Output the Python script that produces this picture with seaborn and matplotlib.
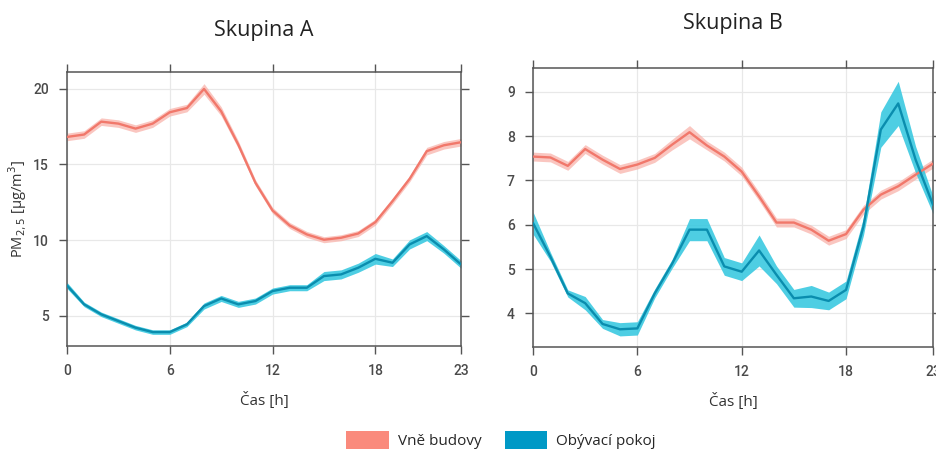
import numpy as np
import pandas as pd
import matplotlib
matplotlib.use("Agg")
import matplotlib.pyplot as plt
from matplotlib.patches import Patch
import seaborn as sns

hours = list(range(24))
series_names = ["Vně budovy", "Obývací pokoj"]
panel_titles = ["Skupina A", "Skupina B"]
x_ticks = [0, 6, 12, 18, 23]

# Skupina A
a_outside = [16.81, 16.97, 17.82, 17.69, 17.36, 17.69, 18.44, 18.72, 19.98, 18.5,
             16.3, 13.78, 11.95, 10.96, 10.37, 10.02, 10.15, 10.43, 11.18, 12.57,
             14.04, 15.87, 16.26, 16.46]
a_outside_ci = [0.25, 0.25, 0.25, 0.25, 0.25, 0.25, 0.25, 0.25, 0.35, 0.3,
                0.25, 0.2, 0.2, 0.2, 0.2, 0.2, 0.2, 0.2, 0.2, 0.2,
                0.2, 0.25, 0.25, 0.25]
a_living = [7.0, 5.75, 5.09, 4.65, 4.21, 3.92, 3.92, 4.43, 5.64, 6.14,
            5.75, 5.97, 6.63, 6.85, 6.85, 7.62, 7.73, 8.17, 8.76, 8.5,
            9.71, 10.26, 9.38, 8.39]
a_living_ci = [0.2, 0.15, 0.15, 0.15, 0.15, 0.15, 0.15, 0.15, 0.2, 0.2,
               0.2, 0.2, 0.2, 0.2, 0.2, 0.3, 0.3, 0.3, 0.35, 0.25,
               0.3, 0.3, 0.25, 0.25]

# Skupina B
b_outside = [7.54, 7.52, 7.33, 7.71, 7.47, 7.26, 7.36, 7.51, 7.81, 8.09,
             7.79, 7.54, 7.20, 6.64, 6.05, 6.05, 5.89, 5.64, 5.79, 6.34,
             6.68, 6.87, 7.13, 7.38]
b_outside_ci = [0.1, 0.1, 0.1, 0.1, 0.1, 0.1, 0.1, 0.1, 0.12, 0.15,
                0.1, 0.1, 0.1, 0.1, 0.1, 0.1, 0.1, 0.1, 0.1, 0.1,
                0.1, 0.1, 0.1, 0.1]
b_living = [6.04, 5.28, 4.45, 4.23, 3.76, 3.64, 3.66, 4.45, 5.12, 5.89,
            5.89, 5.06, 4.94, 5.42, 4.87, 4.34, 4.38, 4.28, 4.53, 5.96,
            8.15, 8.74, 7.47, 6.45]
b_living_ci = [0.25, 0.1, 0.08, 0.15, 0.1, 0.15, 0.15, 0.1, 0.1, 0.25,
               0.25, 0.2, 0.2, 0.35, 0.2, 0.2, 0.25, 0.2, 0.2, 0.2,
               0.4, 0.5, 0.3, 0.2]

line_colors = {"Vně budovy": "#F1786B", "Obývací pokoj": "#0A8DAE"}
band_colors = {"Vně budovy": "#F9B3AB", "Obývací pokoj": "#2FC6DF"}
legend_colors = {"Vně budovy": "#FA8A7C", "Obývací pokoj": "#0099C6"}

panels = [
    (a_outside, a_outside_ci, a_living, a_living_ci, (3.0, 21.1), [5, 10, 15, 20]),
    (b_outside, b_outside_ci, b_living, b_living_ci, (3.24, 9.54), [4, 5, 6, 7, 8, 9]),
]

sns.set_theme(style="white")
plt.rcParams["font.family"] = ["Open Sans", "DejaVu Sans"]

fig = plt.figure(figsize=(9.37, 4.5), dpi=100)
W, H = 937, 450
axes_px = [(67, 72, 461, 346), (533, 68, 933, 347)]
tick_font = ["Roboto", "DejaVu Sans"]

for i, (po, poc, pl, plc, ylim, yt) in enumerate(panels):
    x0, y0, x1, y1 = axes_px[i]
    ax = fig.add_axes([x0 / W, 1 - y1 / H, (x1 - x0) / W, (y1 - y0) / H])
    df = pd.DataFrame({
        "hour": hours * 2,
        "value": po + pl,
        "ci": poc + plc,
        "series": [series_names[0]] * 24 + [series_names[1]] * 24,
    })
    for name in series_names:
        sub = df[df["series"] == name]
        ax.fill_between(sub["hour"], sub["value"] - sub["ci"], sub["value"] + sub["ci"],
                        color=band_colors[name], alpha=0.85 if name == "Obývací pokoj" else 0.75,
                        linewidth=0, zorder=2)
    sns.lineplot(data=df, x="hour", y="value", hue="series", palette=line_colors,
                 linewidth=1.7, legend=False, ax=ax, zorder=3)
    ax.set_xlim(0, 23)
    ax.set_ylim(*ylim)
    ax.set_xticks(x_ticks)
    ax.set_yticks(yt)
    ax.grid(True, color="#E8E8E8", linewidth=0.9, zorder=0)
    for s in ax.spines.values():
        s.set_color("#555555")
        s.set_linewidth(1.1)
        s.set_visible(True)
    ax.tick_params(axis="both", which="both", direction="out", length=6, width=1,
                   color="#555555", top=True, right=True, bottom=True, left=True,
                   labeltop=False, labelright=False, labelsize=10, labelcolor="#4A4A4A",
                   pad=7)
    for lab in ax.get_xticklabels() + ax.get_yticklabels():
        lab.set_family(tick_font)
        lab.set_fontweight("medium")
    ax.set_xlabel("Čas [h]", fontsize=11, color="#333333", labelpad=10)
    if i == 0:
        ax.set_ylabel("PM$_{2,5}$ [µg/m$^{3}$]", fontsize=10.5, color="#333333", labelpad=3)
    else:
        ax.set_ylabel("")
    ax.set_title(panel_titles[i], fontsize=15.5, color="#222222", pad=26 if i == 0 else 28)

handles = [Patch(facecolor=legend_colors[n], edgecolor="none", label=n) for n in series_names]
fig.legend(handles=handles, loc="center", bbox_to_anchor=(501 / W, 1 - 440 / H), ncol=2,
           frameon=False, fontsize=11, handlelength=2.8, handleheight=1.5,
           handletextpad=0.6, columnspacing=1.5)

fig.savefig("out.png", dpi=100, facecolor="white")
